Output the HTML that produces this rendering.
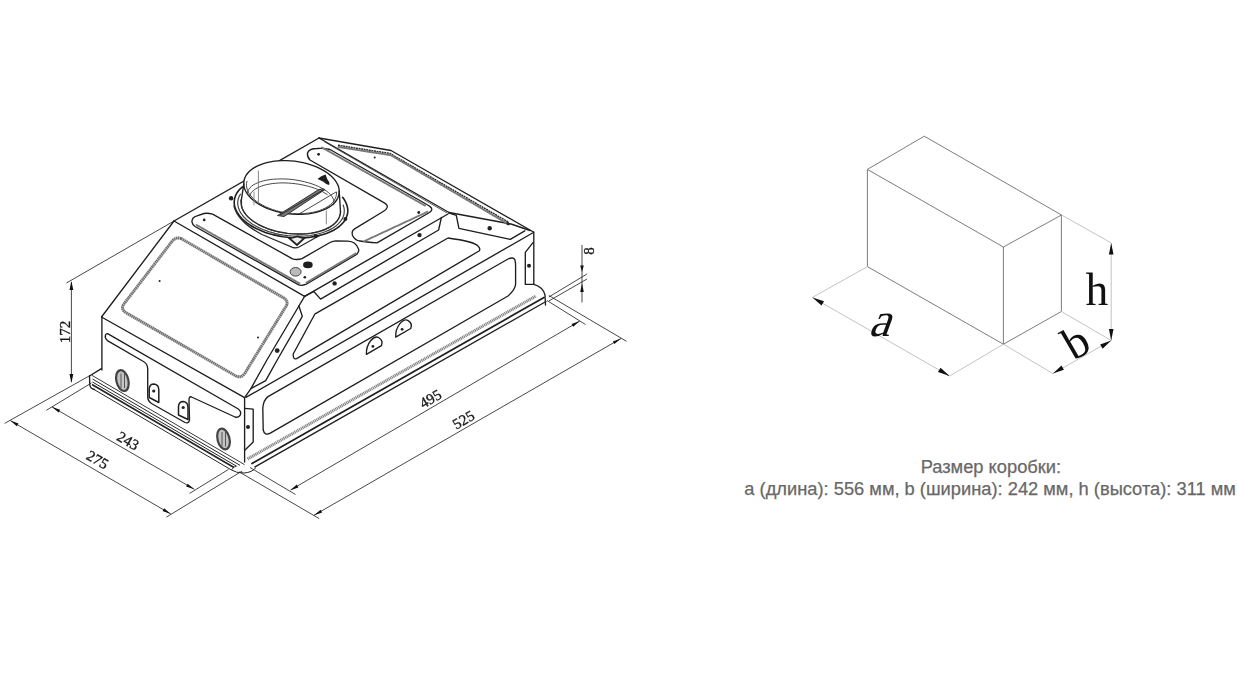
<!DOCTYPE html>
<html><head><meta charset="utf-8">
<style>
html,body{margin:0;padding:0;background:#fff;width:1237px;height:700px;overflow:hidden}
svg{position:absolute;left:0;top:0;filter:blur(0.4px)}
.k{fill:none;stroke:#1e1e1e;stroke-width:1.35;stroke-linejoin:round;stroke-linecap:round}
.t{fill:none;stroke:#333;stroke-width:0.9;stroke-linecap:round}
.d{fill:none;stroke:#333;stroke-width:0.9}
.hb{fill:none;stroke:#8a8a8a;stroke-width:2.6}
.bx{fill:none;stroke:#6e6e6e;stroke-width:0.9}
.bd{fill:none;stroke:#b4b4b4;stroke-width:0.8}
.txt{position:absolute;font-family:"Liberation Sans",sans-serif;color:#686868;white-space:nowrap;-webkit-text-stroke:0.25px #686868}
</style></head><body>
<svg width="1237" height="700" viewBox="0 0 1237 700">
<!-- ===== RIGHT BOX DIAGRAM ===== -->
<g class="bx">
<path d="M867.4,169.4 L924.3,136.2 L1061.5,215 L1003.4,247 L867.4,169.4 Z"/>
<path d="M867.4,169.4 L867.4,266.6 L1003.4,344.2 L1061.4,311.5 L1061.4,215"/>
<path d="M1003.4,247 L1003.4,344.2"/>
</g>
<g class="bd">
<path d="M867.4,266.6 L812.4,297.4 L949.6,376 L1003.4,344.2"/>
<path d="M1003.4,344.2 L1052.9,373.6 L1111.2,340.5 L1061.4,311.5"/>
<path d="M1061.5,215 L1111.2,242.9 L1111.2,340.5"/>
</g>
<g fill="#111">
<path d="M812.4,297.4 l11.6,3.9 l-2.5,4.3 z"/>
<path d="M949.6,376 l-11.6,-3.9 l2.5,-4.3 z"/>
<path d="M1052.9,373.6 l8.6,-8.2 l2.4,4.3 z"/>
<path d="M1111.2,340.5 l-8.6,8.2 l-2.4,-4.3 z"/>
<path d="M1111.2,242.9 l-2.3,11.5 l4.6,0 z"/>
<path d="M1111.2,340.5 l-2.3,-11.5 l4.6,0 z"/>
</g>
<text x="0" y="0" font-family="Liberation Serif" font-size="48" fill="#111" transform="translate(868,336) skewX(-20)">a</text>
<text x="1085.5" y="305.3" font-family="Liberation Serif" font-size="45.5" fill="#111">h</text>
<text x="0" y="0" font-family="Liberation Serif" font-size="46" fill="#111" transform="translate(1073.5,361) rotate(-30)">b</text>

<!-- ===== TECH DRAWING ===== -->
<!-- dimension lines -->
<g class="d">
<path d="M66.4,283 L174,221"/>
<path d="M71.4,282 L71.4,382"/>
<path d="M4.6,423.4 L90,375.5"/>
<path d="M10.3,420.6 L170.7,513.9"/>
<path d="M166.4,517.1 L242.2,471"/>
<path d="M46.3,410.3 L91.4,383"/>
<path d="M52,406.9 L194.3,489.3"/>
<path d="M189.6,493.4 L228.5,469.4"/>
<path d="M250,467.5 L295.5,494.5"/>
<path d="M239,471.8 L319.2,518.6"/>
<path d="M290.6,490 L579.7,321.1"/>
<path d="M314,515.3 L621,338.5"/>
<path d="M547,300.5 L585.5,324.5"/>
<path d="M548.8,295.5 L626.5,341.3"/>
<path d="M582,245 L582,302.5"/>
<path d="M548.8,297 L587,274"/>
<path d="M548.8,301 L587,279"/>
</g>
<g fill="#111">
<path d="M71.4,281.0 L69.5,290.0 L73.3,290.0 Z"/>
<path d="M71.4,383.0 L73.3,374.0 L69.5,374.0 Z"/>
<path d="M10.3,420.6 L16.8,426.3 L18.5,423.5 Z"/>
<path d="M170.7,513.9 L164.2,508.2 L162.5,511.0 Z"/>
<path d="M52.0,406.9 L58.6,412.5 L60.2,409.8 Z"/>
<path d="M194.3,489.3 L187.7,483.7 L186.1,486.4 Z"/>
<path d="M290.3,490.3 L298.4,487.4 L296.8,484.6 Z"/>
<path d="M579.7,321.1 L571.6,324.0 L573.2,326.8 Z"/>
<path d="M314.0,515.3 L322.2,512.4 L320.6,509.7 Z"/>
<path d="M621.0,338.5 L612.8,341.4 L614.4,344.1 Z"/>
<path d="M582.0,272.0 L583.8,265.5 L580.2,265.5 Z"/>
<path d="M582.0,283.5 L580.2,292.0 L583.8,292.0 Z"/>
</g>
<g font-family="Liberation Serif" font-size="15" fill="#1a1a1a" stroke="#1a1a1a" stroke-width="0.35" text-anchor="middle">
<text transform="translate(69.5,332) rotate(-90)">172</text>
<text transform="translate(125.5,445) rotate(30)">243</text>
<text transform="translate(95,464) rotate(30)">275</text>
<text transform="translate(433,403) rotate(-30)">495</text>
<text transform="translate(466,424) rotate(-30)">525</text>
<text transform="translate(594,251) rotate(-90)">8</text>
</g>

<!-- body main outline -->
<g class="k">
<!-- top parallelogram -->
<path d="M174,221 L319,138"/>
<path d="M174,221 L304.6,296.3"/>
<path d="M319,138 L449,212.5"/>
<path d="M304.6,296.3 L448,214"/>
<!-- back slope -->
<path d="M319,138 L391,150.5 L533.4,232"/>
<path d="M449,212.5 L511,224 L530,230.5"/>
<!-- front slope -->
<path d="M174,221 L101.5,317 L244.6,397.7"/>
<path d="M304.6,296.3 L298.9,306 L266.9,360 L250.9,388.6 L244.6,397.7"/>
<path d="M298.9,306 L302.3,316.3 L277.2,360 L265.7,380.6 L250.9,388.6"/>
<!-- front face -->
<path d="M101.9,317 L101.9,370"/>
<path d="M244.6,397.7 L244.6,462"/>
<path d="M244.6,408.3 L253.2,409.2 L253.2,442 L245,450"/>
<!-- side wall -->
<path d="M246.3,397.2 L533.4,232.5"/>
<path d="M533.8,232 L533.8,284.4"/>
<path d="M525.3,252.3 L533,242.6 M525.3,252.3 L525.3,284.4 L533.8,284.4"/>
<!-- side chamfer rail -->
<path d="M304.6,296.3 L313.8,291.5 L320.6,299.1 L438.6,230 L441.4,217.5"/>
<path d="M448.6,212.9 L456.3,215.4 L458.9,228.3 L510.3,239.4 L524.8,230.8"/>
<!-- panel A (chamfer) -->
<path d="M316,313.4 L448,238 Q474,241.5 478,246 Q481,249 479,251 L296.6,358.6 Q293,360 293.2,354 L314.9,314 Z"/>
<!-- panel B (wall) -->
<path d="M268,396.6 L508,259 Q513.5,256.5 515,260 Q515.6,263 515.6,266 L515.6,284.4 Q515,290 508,296 L270.3,433.2 Q264.5,436 263.2,430 L262.8,408 Q263.5,400 268,396.6 Z"/>
<!-- base rail -->
<path d="M252,463.5 L544,297.5" stroke-width="1.7"/>
<path d="M255,466.9 L546,301.5"/>
<path d="M533.8,284.4 Q543,287 545,295 L545.5,305"/>
<path d="M89.5,376 L101.4,368.6 M89.5,376 L89.8,385 Q90.5,389 94.5,389.5"/>
</g>
<path d="M247.5,459 L536,296" fill="none" stroke="#858585" stroke-width="3" stroke-dasharray="1.2 0.6"/>
<g fill="none" stroke="#262626">
<path d="M92,375.4 L244.5,464.6" stroke-width="0.9"/>
<path d="M92.5,379 L240,465.3" stroke-width="1"/>
<path d="M92.5,382 L236.5,466.2" stroke-width="1"/>
<path d="M92,384.5 L234,467.6" stroke-width="1.7"/>
<path d="M91.5,388 L231.5,470 Q236,473 244,473 Q252,472.5 256,467.5" stroke-width="1"/>
<path d="M231.5,470 Q233,466.5 236.5,466.2" stroke-width="0.8"/>
</g>
<!-- front face slot + holes -->
<g class="k">
<path d="M107.6,333.6 L238.3,409 Q242,412 240,415.5 Q238,418 235,417 L191.5,397 Q189,396 189,400 L189.5,420 Q188.5,424 185,422.5 L151.5,403.5 Q147.5,401 147.7,396 L147.7,368.6 Q147.5,363.4 142.6,361 L107.4,340.6 Q104.5,338 105.5,335 Q106,333.5 107.6,333.6 Z"/>
</g>
<g fill="#c4c4c4" stroke="#444" stroke-width="2.2">
<ellipse cx="122.4" cy="380.6" rx="6" ry="10.6" transform="rotate(-14 122.4 380.6)"/>
<ellipse cx="223.5" cy="439" rx="6" ry="10.6" transform="rotate(-14 223.5 439)"/>
</g>
<g fill="none" stroke="#555" stroke-width="1">
<path d="M121,373.5 L121,388 M124.5,373 L124.5,388"/>
<path d="M222,432 L222,446.5 M225.5,431.5 L225.5,446.5"/>
</g>
<g class="k">
<path d="M366.4,354.3 C366,343 374,335 378.5,337.5 C382,339.5 382.5,343 381.4,345.7 Z"/>
<path d="M395.7,337.1 C395.3,326 403.3,318 407.8,320.3 C411.3,322.3 411.8,325.8 410.7,328.5 Z"/>
</g>
<g fill="#222"><circle cx="372.9" cy="346.4" r="1.4"/><circle cx="402.1" cy="329.3" r="1.4"/></g>
<g class="k">
<path d="M149.2,397.5 L149.2,389 Q149.5,384 154,384 Q158.8,384.5 158.8,390 L158.8,402.5 Z" stroke-width="1.5"/>
<path d="M178.5,415 L178.5,406.5 Q178.8,401.5 183.3,401.5 Q188,402 188,407.5 L188,419.5 Z" stroke-width="1.5"/>
</g>
<g fill="#222">
<circle cx="153.7" cy="391" r="1.6"/>
<circle cx="183.2" cy="407.5" r="1.6"/>
<circle cx="277.2" cy="350.6" r="2.4"/>
<circle cx="248" cy="426.9" r="2"/>
<circle cx="334.6" cy="283.4" r="2.2"/>
<circle cx="419.5" cy="235.1" r="2.2"/>
<circle cx="489.7" cy="228.3" r="2.2"/>
<circle cx="529" cy="265.8" r="2"/>
</g>
<!-- window frame band -->
<path d="M181,238.5 L283.5,297.8 Q288.5,300.8 286.5,305.5 L245,373 Q241.5,378.5 236,376 L126.5,313 Q120.5,309.5 123.5,304.5 L171.5,242 Q175.5,236.5 181,238.5 Z" fill="none" stroke="#727272" stroke-width="3" stroke-dasharray="1.6 0.4"/>
<!-- back recess -->
<path d="M338,145.3 L390,153.5 L509,222.5" fill="none" stroke="#2a2a2a" stroke-width="1.5" stroke-dasharray="2 0.6"/>
<path d="M324,141.5 L447,213" fill="none" stroke="#333" stroke-width="0.8"/>
<circle cx="374.7" cy="157.4" r="1" fill="#222"/>
<ellipse cx="507.5" cy="223.5" rx="2.5" ry="1.3" fill="#222" transform="rotate(30 507.5 223.5)"/>
<!-- top face details -->
<g class="k">
<!-- lower L strip -->
<path d="M197,215.8 Q192,217 191.9,221.9 Q192.5,225 195,226.5 L298.7,284.9 Q302,286 306.3,284.1 L357,254.1 Q359.5,251 358.5,249 Q356,241.5 347.8,241.1 L336,240.8 Q333,241 330,242.5 L302,258.6 Q297,260.2 292.5,258.8 L212.6,214.2 Q208,212.8 204,213.5 Z"/>
<!-- upper L strip -->
<path d="M317,148.5 Q309,148.5 307.5,153 Q307,157 310,160 L384.3,202.9 Q388,205 387.1,207.5 Q386,210 384,211 L355,228.6 Q351,231 352.5,235.5 Q355,240.5 360,241 Q366,242 377,242.9 L428.6,213 Q433,210.5 431.4,208 Q430,206 426,204 L330,149.5 Q324,148 317,148.5 Z"/>
<g fill="none" stroke="#7a7a7a" stroke-width="1.9" stroke-dasharray="1.2 0.5">
<path d="M196.5,225 L299.5,283.4"/>
<path d="M306.5,282.6 L356,253.3"/>
<path d="M322,147.5 L425,205.6"/>
<path d="M364,241.3 L427.5,211.8"/>
<path d="M338.5,147 L391,155.3 L506,222.8"/>
</g>
<!-- duct -->
<path d="M243.9,181.7 L244.3,179.6 L244.9,177.6 L245.9,175.7 L247.2,173.8 L248.7,172.0 L250.5,170.3 L252.6,168.8 L254.9,167.3 L257.4,166.0 L260.1,164.8 L263.0,163.7 L266.1,162.8 L269.4,162.0 L272.7,161.4 L276.3,161.0 L279.8,160.7 L283.5,160.6 L287.2,160.6 L291.0,160.8 L294.7,161.2 L298.5,161.7 L302.1,162.4 L305.8,163.3 L309.3,164.3 L312.7,165.4 L316.0,166.7 L319.1,168.1 L322.1,169.7 L324.9,171.3 L327.5,173.0 L329.8,174.9 L331.9,176.8 L333.8,178.7 L335.4,180.8 L336.8,182.8 L337.8,184.9 L338.6,187.0 L339.1,189.2 L339.2,191.3 L339.1,193.3 L340.4,213.1 L340.0,215.1 L339.3,217.1 L338.3,219.1 L337.0,220.9 L335.4,222.7 L333.6,224.4 L331.4,225.9 L329.1,227.4 L326.4,228.7 L323.6,229.9 L320.6,231.0 L317.4,231.9 L314.0,232.6 L310.5,233.2 L306.8,233.6 L303.1,233.9 L299.2,234.0 L295.4,233.9 L291.5,233.7 L287.6,233.3 L283.7,232.7 L279.8,232.0 L276.1,231.2 L272.4,230.1 L268.8,229.0 L265.4,227.7 L262.1,226.2 L259.0,224.7 L256.1,223.0 L253.4,221.3 L251.0,219.4 L248.8,217.5 L246.8,215.5 L245.1,213.5 L243.7,211.4 L242.6,209.3 L241.8,207.2 L241.3,205.1 L241.1,203.0 L241.2,200.9 Z" fill="#fff" stroke="none"/>
<path d="M243.8,184.0 L241.1,201.7"/>
<path d="M339.2,191.0 L340.5,211.7"/>
<path d="M339.1,193.3 L338.7,195.6 L337.9,197.8 L336.7,200.0 L335.2,202.0 L333.3,203.9 L331.1,205.7 L328.7,207.4 L325.9,208.9 L322.9,210.2 L319.6,211.4 L316.2,212.4 L312.5,213.2 L308.7,213.8 L304.8,214.2 L300.7,214.4 L296.6,214.4 L292.4,214.2 L288.3,213.8 L284.1,213.2 L280.0,212.4 L276.0,211.4 L272.2,210.2 L268.4,208.9 L264.9,207.4 L261.5,205.7 L258.4,203.9 L255.5,202.0 L252.9,199.9 L250.6,197.8 L248.6,195.6 L247.0,193.3 L245.6,191.0 L244.6,188.7 L244.0,186.3 L243.8,184.0 L243.9,181.7 L244.3,179.4 L245.1,177.2 L246.3,175.0 L247.8,173.0 L249.7,171.1 L251.9,169.3 L254.3,167.6 L257.1,166.1 L260.1,164.8 L263.4,163.6 L266.8,162.6 L270.5,161.8 L274.3,161.2 L278.2,160.8 L282.3,160.6 L286.4,160.6 L290.6,160.8 L294.7,161.2 L298.9,161.8 L303.0,162.6 L307.0,163.6 L310.8,164.8 L314.6,166.1 L318.1,167.6 L321.5,169.3 L324.6,171.1 L327.5,173.0 L330.1,175.1 L332.4,177.2 L334.4,179.4 L336.0,181.7 L337.4,184.0 L338.4,186.3 L339.0,188.7 L339.2,191.0 L339.1,193.3 Z"/>
<path d="M336.6,192.3 L336.4,194.5 L336.0,196.7 L335.1,198.9 L333.9,200.9 L332.3,202.9 L330.3,204.7 L328.1,206.4 L325.5,207.9 L322.6,209.3 L319.5,210.5 L316.1,211.6 L312.6,212.4 L308.8,213.0 L304.9,213.5 L300.9,213.7 L296.8,213.7 L292.7,213.5 L288.5,213.1 L284.4,212.5 L280.3,211.7 L276.4,210.7 L272.5,209.5 L268.9,208.1 L265.4,206.6 L262.1,204.9 L259.1,203.1 L256.3,201.2 L253.9,199.2 L251.8,197.0 L250.0,194.8 L248.5,192.6 L247.5,190.3 L246.8,188.0 L246.5,185.7 L246.5,183.5 L247.0,181.3" class="t"/>
<path d="M340.5,211.7 L340.3,213.8 L339.8,215.9 L338.9,218.0 L337.7,219.9 L336.2,221.8 L334.5,223.6 L332.4,225.3 L330.0,226.8 L327.4,228.2 L324.6,229.5 L321.5,230.7 L318.2,231.6 L314.8,232.4 L311.2,233.1 L307.4,233.6 L303.6,233.9 L299.6,234.0 L295.6,233.9 L291.6,233.7 L287.6,233.3 L283.6,232.7 L279.6,232.0 L275.7,231.1 L271.9,230.0 L268.2,228.8 L264.7,227.4 L261.4,225.9 L258.2,224.3 L255.3,222.5 L252.6,220.7 L250.1,218.8 L247.9,216.7 L246.0,214.7 L244.4,212.5 L243.1,210.4 L242.1,208.2 L241.5,206.0 L241.1,203.8 L241.1,201.7 L241.4,199.5"/>
<path d="M339.9,214.5 L339.5,216.5 L338.8,218.4 L337.9,220.2 L336.6,222.0 L335.0,223.6 L333.2,225.2 L331.1,226.7 L328.7,228.1 L326.2,229.3 L323.4,230.5 L320.4,231.4 L317.2,232.3 L313.9,233.0 L310.4,233.5 L306.8,233.9 L303.1,234.2 L299.3,234.2 L295.5,234.1 L291.6,233.9 L287.7,233.5 L283.9,233.0 L280.1,232.3 L276.3,231.4 L272.7,230.4 L269.2,229.3 L265.8,228.0 L262.5,226.7 L259.4,225.2 L256.6,223.6 L253.9,221.9 L251.4,220.2 L249.2,218.3 L247.3,216.4 L245.6,214.5 L244.2,212.5 L243.1,210.5 L242.3,208.5 L241.8,206.5 L241.6,204.4 L241.7,202.5" class="t"/>
<!-- flange -->
<path stroke-width="1.6" d="M342.6,197.3 L344.4,199.8 L345.8,202.3 L346.8,204.9 L347.5,207.5 L347.8,210.1 L347.7,212.6 L347.2,215.1 L346.3,217.6 L345.1,220.0 L343.5,222.3 L341.5,224.4 L339.2,226.5 L336.6,228.4 L333.6,230.2 L330.4,231.8 L326.9,233.3 L323.2,234.5 L319.2,235.6 L315.0,236.5 L310.7,237.1 L306.3,237.6 L301.7,237.9 L297.1,237.9 L292.4,237.7 L287.8,237.3 L283.1,236.7 L278.5,235.9 L274.0,234.9 L269.6,233.7 L265.3,232.4 L261.3,230.8 L257.4,229.1 L253.7,227.2 L250.3,225.2 L247.2,223.1 L244.4,220.8 L241.9,218.5 L239.7,216.0 L237.9,213.6 L236.4,211.0 L235.3,208.4 L234.6,205.9 L234.2,203.3 L234.3,200.7 L234.7,198.2 L235.5,195.7 L236.7,193.3 L238.3,191.0 L240.2,188.8 L242.5,186.8"/>
<path d="M343.2,205.0 L343.9,207.4 L344.3,209.8 L344.2,212.3 L343.9,214.6 L343.1,216.9 L342.0,219.2 L340.5,221.4 L338.7,223.4 L336.6,225.4 L334.1,227.2 L331.4,228.9 L328.3,230.4 L325.1,231.8 L321.5,233.0 L317.8,234.0 L313.9,234.8 L309.8,235.5 L305.6,235.9 L301.2,236.1 L296.9,236.2 L292.4,236.0 L288.0,235.6 L283.6,235.1 L279.2,234.3 L274.9,233.4 L270.8,232.2 L266.7,230.9 L262.9,229.5 L259.2,227.8 L255.7,226.1 L252.5,224.2 L249.6,222.1 L247.0,220.0 L244.6,217.8 L242.6,215.5 L240.9,213.1 L239.6,210.7 L238.6,208.3 L238.0,205.9 L237.7,203.5 L237.8,201.1 L238.3,198.7 L239.2,196.4 L240.4,194.2" stroke-width="1.2" stroke="#444"/>
</g>
<g class="t">
<path d="M247.6,194.3 L247.6,192.6 L248.0,190.9 L248.8,189.3 L249.9,187.8 L251.4,186.4 L253.2,185.0 L255.4,183.8 L257.8,182.7 L260.5,181.7 L263.5,180.8 L266.7,180.1 L270.1,179.6 L273.6,179.2 L277.4,179.0 L281.2,178.9 L285.1,179.0 L289.1,179.2 L293.1,179.6 L297.0,180.2 L300.9,180.9 L304.7,181.8 L308.5,182.8 L312.0,183.9 L315.4,185.2 L318.6,186.5 L321.5,188.0 L324.2,189.5 L326.5,191.1 L328.6,192.8 L330.4,194.5 L331.8,196.2 L332.9,198.0 L333.6,199.8 L334.0,201.5 L334.0,203.2 L333.6,204.9"/>
<path d="M249.7,195.6 L250.3,194.2 L251.2,192.8 L252.3,191.5 L253.7,190.3 L255.3,189.1 L257.1,188.0 L259.2,187.0 L261.4,186.1 L263.9,185.3 L266.5,184.6 L269.3,184.1 L272.2,183.6 L275.3,183.3 L278.5,183.0 L281.7,182.9 L285.0,182.9 L288.4,183.1 L291.8,183.3 L295.2,183.7 L298.6,184.2 L301.9,184.8 L305.2,185.5 L308.4,186.3 L311.5,187.2 L314.5,188.2 L317.3,189.3 L320.0,190.5 L322.6,191.7 L324.9,193.1 L327.1,194.4"/>
<path d="M299,214 L336,192"/>
<path d="M258.4,171 L258.4,203" stroke="#777"/>
<path d="M254,192 L254,205" stroke="#888"/>
<path d="M326.3,211 L326.3,224" stroke="#777"/>
<path d="M289.5,238.5 L297.5,236.5 L304,238.5 L297,245 Z" stroke="#222" stroke-width="1.8" fill="#eee"/>
<path d="M234,206 Q238,222 262,234.5 L292.5,247.3 Q296,248.5 299,247 L320,235.2" stroke="#2a2a2a" stroke-width="1.3"/>
</g>
<path d="M277.5,215.5 L318,190 Q322,188 325,189.5 L284,216.5 Z" fill="#777" stroke="#333" stroke-width="1"/>
<path d="M280,215 L323,190" fill="none" stroke="#222" stroke-width="0.9"/>
<g fill="#1e1e1e">
<circle cx="231.1" cy="198.3" r="2.2"/>
<circle cx="345.4" cy="218.9" r="2"/>
<circle cx="315.7" cy="236" r="2"/>
<path d="M317.5,179 Q321,175.5 325.5,174.5 L327.5,179.5 Q330.5,183 329,185 Q325.5,184 323,181.5 Z"/>
<ellipse cx="307.9" cy="264.9" rx="4.8" ry="3.3"/>
<circle cx="304.8" cy="277.2" r="1.3"/>
<circle cx="204.2" cy="219.9" r="1.3"/>
<circle cx="318.6" cy="154.3" r="1.4"/>
<circle cx="418.75" cy="212.5" r="1.4"/>
<circle cx="159.6" cy="281" r="1"/>
<circle cx="258" cy="337.4" r="1"/>
</g>
<ellipse cx="295.6" cy="271.8" rx="5.5" ry="4.3" fill="#bbb" stroke="#333" stroke-width="0.9"/>
</svg>
<div class="txt" style="left:1.4px;top:456.2px;width:1979px;text-align:center;font-size:18.3px;line-height:22px">Размер коробки:</div>
<div class="txt" style="left:0.6px;top:478.1px;width:1979px;text-align:center;font-size:18.3px;line-height:22px">a (длина): 556 мм, b (ширина): 242 мм, h (высота): 311 мм</div>
</body></html>
